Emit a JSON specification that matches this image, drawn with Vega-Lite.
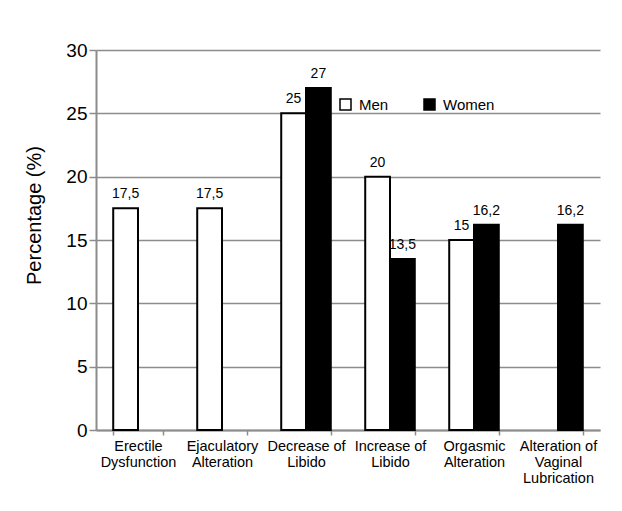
{
  "$schema": "https://vega.github.io/schema/vega-lite/v6.json",
  "autosize": "none",
  "width": 504,
  "height": 380,
  "padding": {"left": 96, "top": 50, "right": 22, "bottom": 81},
  "background": "white",
  "config": {
    "font": "Liberation Sans",
    "view": {"stroke": null},
    "locale": {"number": {"decimal": ",", "thousands": ".", "grouping": [3], "currency": ["", ""]}}
  },
  "data": {
    "values": [
      {"category": "Erectile Dysfunction", "sex": "Men", "value": 17.5},
      {"category": "Ejaculatory Alteration", "sex": "Men", "value": 17.5},
      {"category": "Decrease of Libido", "sex": "Men", "value": 25},
      {"category": "Decrease of Libido", "sex": "Women", "value": 27},
      {"category": "Increase of Libido", "sex": "Men", "value": 20},
      {"category": "Increase of Libido", "sex": "Women", "value": 13.5},
      {"category": "Orgasmic Alteration", "sex": "Men", "value": 15},
      {"category": "Orgasmic Alteration", "sex": "Women", "value": 16.2},
      {"category": "Alteration of Vaginal Lubrication", "sex": "Women", "value": 16.2}
    ]
  },
  "encoding": {
    "x": {
      "field": "category",
      "type": "nominal",
      "sort": null,
      "scale": {"paddingInner": 0.41, "paddingOuter": 0.205},
      "axis": {
        "title": null,
        "labelAngle": 0,
        "tickBand": "extent",
        "domainColor": "#8c8c8c",
        "domainWidth": 2,
        "tickColor": "#8c8c8c",
        "tickWidth": 1.5,
        "tickSize": 5,
        "labelFontSize": 14.5,
        "labelColor": "black",
        "labelLineHeight": 16,
        "labelPadding": 4,
        "labelOverlap": false,
        "labelLimit": 0,
        "labelExpr": "split(indexof(datum.label, ' of ') > 0 ? replace(replace(datum.label, ' of ', ' of|'), ' Lubrication', '|Lubrication') : replace(datum.label, ' ', '|'), '|')"
      }
    },
    "xOffset": {"field": "sex", "type": "nominal", "scale": {"domain": ["Men", "Women"], "paddingInner": 0, "paddingOuter": 0}},
    "y": {
      "field": "value",
      "type": "quantitative",
      "scale": {"domain": [0, 30], "nice": false},
      "axis": {
        "title": "Percentage (%)",
        "values": [0, 5, 10, 15, 20, 25, 30],
        "grid": true,
        "gridColor": "#8c8c8c",
        "gridWidth": 1.5,
        "domainColor": "#8c8c8c",
        "domainWidth": 2,
        "tickColor": "#8c8c8c",
        "tickWidth": 1.5,
        "tickSize": 7,
        "labelPadding": 2,
        "labelFontSize": 19,
        "labelColor": "black",
        "format": "d",
        "titleFontSize": 20,
        "titleFontWeight": "normal",
        "titleColor": "black",
        "titleX": -56,
        "titleY": 165,
        "titleBaseline": "alphabetic"
      }
    }
  },
  "layer": [
    {
      "mark": {"type": "bar", "stroke": "black", "strokeWidth": 2},
      "encoding": {
        "fill": {
          "field": "sex",
          "type": "nominal",
          "scale": {"domain": ["Men", "Women"], "range": ["white", "black"]},
          "legend": {
            "title": null,
            "orient": "none",
            "direction": "horizontal",
            "legendX": 242,
            "legendY": 47,
            "padding": 0,
            "symbolType": "square",
            "symbolSize": 121,
            "symbolStrokeColor": "black",
            "symbolStrokeWidth": 1.5,
            "labelFontSize": 15,
            "labelColor": "black",
            "labelOffset": 6,
            "columnPadding": 32
          }
        }
      }
    },
    {
      "mark": {"type": "text", "baseline": "alphabetic", "dy": -10, "fontSize": 14, "color": "black"},
      "encoding": {
        "text": {"field": "value", "type": "quantitative", "format": ".1~f"}
      }
    }
  ]
}
